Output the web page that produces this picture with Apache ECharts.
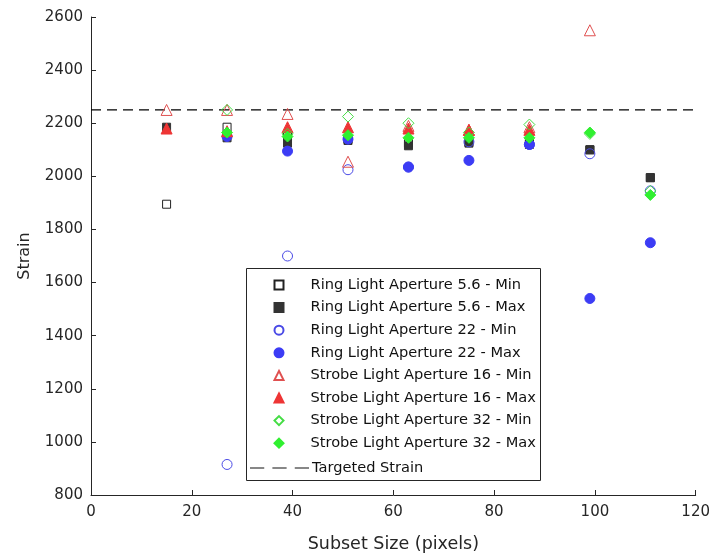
<!DOCTYPE html>
<html>
<head>
<meta charset="utf-8">
<script src="https://cdn.jsdelivr.net/npm/echarts@6/dist/echarts.min.js"></script>
<style>html,body{margin:0;padding:0;background:#fff}#c{width:713px;height:559px}</style>
</head>
<body>
<div id="c"></div>
<script>
const subsetSizes = [15, 27, 39, 51, 63, 75, 87, 99, 111];
const ring56Min   = [1895, 2185, 2150, 2140, 2125, 2130, 2125, 2100, 1995];
const ring56Max   = [2185, 2145, 2125, 2135, 2115, 2125, 2120, 2100, 1995];
const ring22Min   = [null, 915, 1700, 2025, 2035, 2130, 2120, 2085, 1945];
const ring22Max   = [null, 2150, 2095, 2140, 2035, 2060, 2120, 1540, 1750];
const strobe16Min = [2250, 2250, 2235, 2055, 2190, 2175, 2185, 2550, null];
const strobe16Max = [2180, 2170, 2185, 2185, 2180, 2175, 2175, null, null];
const strobe32Min = [null, 2250, 2160, 2225, 2200, 2165, 2195, 2160, 1945];
const strobe32Max = [null, 2165, 2150, 2155, 2145, 2145, 2145, 2165, 1930];
const targetStrain = 2250;
const xRange = [0, 120];
const yRange = [800, 2600];
const seriesNames = [
  'Ring Light Aperture 5.6 - Min', 'Ring Light Aperture 5.6 - Max',
  'Ring Light Aperture 22 - Min', 'Ring Light Aperture 22 - Max',
  'Strobe Light Aperture 16 - Min', 'Strobe Light Aperture 16 - Max',
  'Strobe Light Aperture 32 - Min', 'Strobe Light Aperture 32 - Max'
];
const lineName = 'Targeted Strain';

const font = 'DejaVu Sans, Liberation Sans, sans-serif';
const txt = '#262626';
function pts(vals){ return subsetSizes.map((x,i)=>[x, vals[i]]).filter(p=>p[1]!==null); }
function sc(name, vals, symbol, color, filled, size){
  return {
    name, type:'scatter', data: pts(vals), symbol, symbolSize: size,
    itemStyle: filled ? {color: color, borderColor: color, borderWidth: 1, opacity: 1}
                      : {color: 'rgba(255,255,255,0)', borderColor: color, borderWidth: 1, opacity: 1},
    emphasis:{disabled:true}
  };
}
const series = [
  sc(seriesNames[0], ring56Min, 'rect', '#222222', false, 8),
  sc(seriesNames[1], ring56Max, 'rect', '#333333', true, 8),
  sc(seriesNames[2], ring22Min, 'circle', '#4a4ae6', false, 10),
  sc(seriesNames[3], ring22Max, 'circle', '#3c3cf5', true, 10),
  sc(seriesNames[4], strobe16Min, 'triangle', '#e05050', false, 11),
  sc(seriesNames[5], strobe16Max, 'triangle', '#ee3535', true, 11),
  sc(seriesNames[6], strobe32Min, 'diamond', '#44dd44', false, 11),
  sc(seriesNames[7], strobe32Max, 'diamond', '#30f030', true, 11),
  {
    name: lineName, type:'line', data:[[xRange[0], targetStrain],[xRange[1], targetStrain]],
    symbol:'none', lineStyle:{color:'#000', width:1.3, type:[10,6], opacity:1}, z:1, emphasis:{disabled:true}
  }
];
const chart = echarts.init(document.getElementById('c'));
chart.setOption({
  animation:false,
  backgroundColor:'#fff',
  grid:{left:91, right:16, top:17, bottom:64, containLabel:false},
  xAxis:{
    type:'value', min:xRange[0], max:xRange[1], interval:20,
    name:'Subset Size (pixels)', nameLocation:'middle', nameGap:40,
    nameTextStyle:{fontFamily:font, fontSize:17.5, color:txt},
    axisLine:{lineStyle:{color:'#262626'}}, splitLine:{show:false},
    axisTick:{inside:true, length:5, lineStyle:{color:'#262626'}},
    axisLabel:{fontFamily:font, fontSize:15, color:txt, margin:10}
  },
  yAxis:{
    type:'value', min:yRange[0], max:yRange[1], interval:200,
    name:'Strain', nameLocation:'middle', nameGap:58, nameRotate:90,
    nameTextStyle:{fontFamily:font, fontSize:16, color:txt},
    axisLine:{show:true, lineStyle:{color:'#262626'}}, splitLine:{show:false},
    axisTick:{show:true, inside:true, length:5, lineStyle:{color:'#262626'}},
    axisLabel:{fontFamily:font, fontSize:15, color:txt, margin:8, formatter: v => String(v)}
  },
  graphic:[{
    type:'rect', left:246, top:268, z:3,
    shape:{width:294, height:212},
    style:{fill:'#fff', stroke:'#262626', lineWidth:1}
  }],
  legend:[{
    orient:'vertical', left:273.5, top:276, padding:0, z:5,
    itemGap:4.6, itemWidth:9, itemHeight:9,
    textStyle:{fontFamily:font, fontSize:14.6, color:'#111', lineHeight:18, padding:[0,0,0,22]},
    data: seriesNames
  },{
    orient:'vertical', left:250, top:459, padding:0, z:5,
    itemWidth:59, itemHeight:1.3,
    textStyle:{fontFamily:font, fontSize:14.6, color:'#111', lineHeight:18, padding:[0,0,0,-2]},
    data:[{name: lineName, icon:'path://M0,0H14V1H0Z M22,0H36V1H22Z M44,0H58V1H44Z', itemStyle:{color:'#111'}}]
  }],
  series
});
</script>
</body>
</html>
